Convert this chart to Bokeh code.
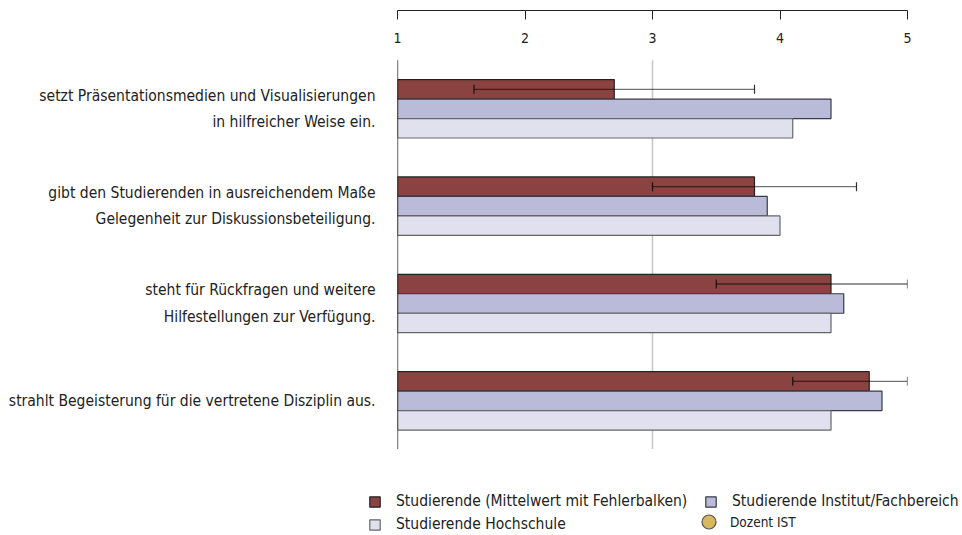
import numpy as np
from bokeh.plotting import figure
from bokeh.models import (Range1d, LinearAxis, FixedTicker, ColumnDataSource,
                          Whisker, TeeHead, Legend, LegendItem)
from bokeh.embed import file_html
from bokeh.resources import INLINE

# ---------------- data ----------------
items = [
    "setzt Präsentationsmedien und Visualisierungen\nin hilfreicher Weise ein.",
    "gibt den Studierenden in ausreichendem Maße\nGelegenheit zur Diskussionsbeteiligung.",
    "steht für Rückfragen und weitere\nHilfestellungen zur Verfügung.",
    "strahlt Begeisterung für die vertretene Disziplin aus.",
]
studierende = [2.7, 3.8, 4.4, 4.7]
err_low = [1.6, 3.0, 3.5, 4.1]
err_high = [3.8, 4.6, 5.0, 5.0]
institut = [4.4, 3.9, 4.5, 4.8]
hochschule = [4.1, 4.0, 4.4, 4.4]
dozent = []  # no values shown
x_ticks = [1, 2, 3, 4, 5]

series_names = ["Studierende (Mittelwert mit Fehlerbalken)",
                "Studierende Institut/Fachbereich",
                "Studierende Hochschule",
                "Dozent IST"]

FONT = "'DejaVu Sans Condensed', 'Liberation Sans', sans-serif"
RED, PURPLE, LIGHT, GOLD = "#8b4341", "#babbd8", "#e0e0ee", "#d8b75e"
styles = [dict(fill_color=RED, line_color="#222222", line_width=1.2),
          dict(fill_color=PURPLE, line_color="#3a3a48", line_width=1.2),
          dict(fill_color=LIGHT, line_color="#666666", line_width=1.2)]

idx = np.arange(len(items))
bar_h = 0.2
W = 960

p = figure(frame_width=510, frame_height=439,
           x_range=Range1d(1, 5), y_range=Range1d(3.5, -1.01),
           x_axis_location="above", y_axis_location=None,
           output_backend="svg", toolbar_location=None,
           min_border_left=397, min_border_top=10, min_border_right=W - 397 - 510,
           min_border_bottom=0, outline_line_color=None)
p.grid.visible = False

# top axis
xa = p.xaxis[0]
xa.ticker = FixedTicker(ticks=x_ticks)
xa.minor_tick_line_color = None
xa.major_tick_out = 0
xa.major_tick_in = 9
xa.axis_line_color = "#222222"
xa.major_tick_line_color = "#222222"
xa.major_label_standoff = -32
xa.major_label_text_font = FONT
xa.major_label_text_font_size = "14px"
xa.major_label_text_color = "#222222"

# left axis with category labels
ya = LinearAxis(ticker=FixedTicker(ticks=list(idx)),
                major_label_overrides={int(i): t for i, t in zip(idx, items)})
ya.axis_line_color = None
ya.major_tick_line_color = None
ya.minor_tick_line_color = None
ya.major_label_standoff = 16
ya.major_label_text_font = FONT
ya.major_label_text_font_size = "15.5px"
ya.major_label_text_color = "#222222"
ya.major_label_text_line_height = 1.45
p.add_layout(ya, "left")

# reference lines (grid at 3 and axis line at 1)
y_lo, y_hi = idx[0] - 0.5, idx[-1] + 0.5
p.segment(x0=[3], y0=[y_lo], x1=[3], y1=[y_hi], line_color="#c8c8c8", line_width=1.6)

series_vals = [studierende, institut, hochschule]
for off, vals, st in zip([-bar_h, 0, bar_h], series_vals, styles):
    p.hbar(y=idx + off, left=1, right=vals, height=bar_h, **st)

p.segment(x0=[1], y0=[y_lo], x1=[1], y1=[y_hi], line_color="#111111", line_width=1.3)

src = ColumnDataSource(dict(y=idx - bar_h, lo=err_low, hi=err_high))
wh = Whisker(source=src, base="y", lower="lo", upper="hi", dimension="width",
             line_color="black", line_alpha=0.55, line_width=1.3, level="overlay",
             upper_head=TeeHead(size=9, line_color="black", line_alpha=0.8, line_width=1.2),
             lower_head=TeeHead(size=9, line_color="black", line_alpha=0.8, line_width=1.2))
p.add_layout(wh)

# ---------------- legend strip (keys from hidden copies of the series) ----------------
LH = 85
lg = figure(width=W, height=LH, x_range=Range1d(0, W), y_range=Range1d(0, LH),
            output_backend="svg", toolbar_location=None, min_border=0,
            outline_line_color=None)
lg.axis.visible = False
lg.grid.visible = False
leg_r = [lg.hbar(y=idx, right=vals, left=1, height=bar_h, visible=False, **st)
         for vals, st in zip(series_vals, styles)]
r_doz = lg.scatter(x=idx, y=idx, size=14, fill_color=GOLD, line_color="#555555",
                   line_width=1.2, visible=False)

common = dict(padding=0, margin=0, spacing=5, label_text_font=FONT,
              label_text_color="#222222", border_line_color=None,
              background_fill_alpha=0, inactive_fill_alpha=0)
leg1 = Legend(items=[LegendItem(label=n, renderers=[r]) for n, r in zip(series_names[:3], leg_r)],
              location=(368, 1), orientation="horizontal", ncols=2, label_width=303,
              glyph_width=13, glyph_height=13, label_standoff=15,
              label_text_font_size="15.5px", **common)
leg2 = Legend(items=[LegendItem(label=series_names[3], renderers=[r_doz])],
              location=(691, -5), glyph_width=35, glyph_height=35, label_standoff=4,
              label_text_font_size="13.5px", **common)
lg.add_layout(leg1, "center")
lg.add_layout(leg2, "center")

open("out.html", "w").write(file_html((p, lg), INLINE))
